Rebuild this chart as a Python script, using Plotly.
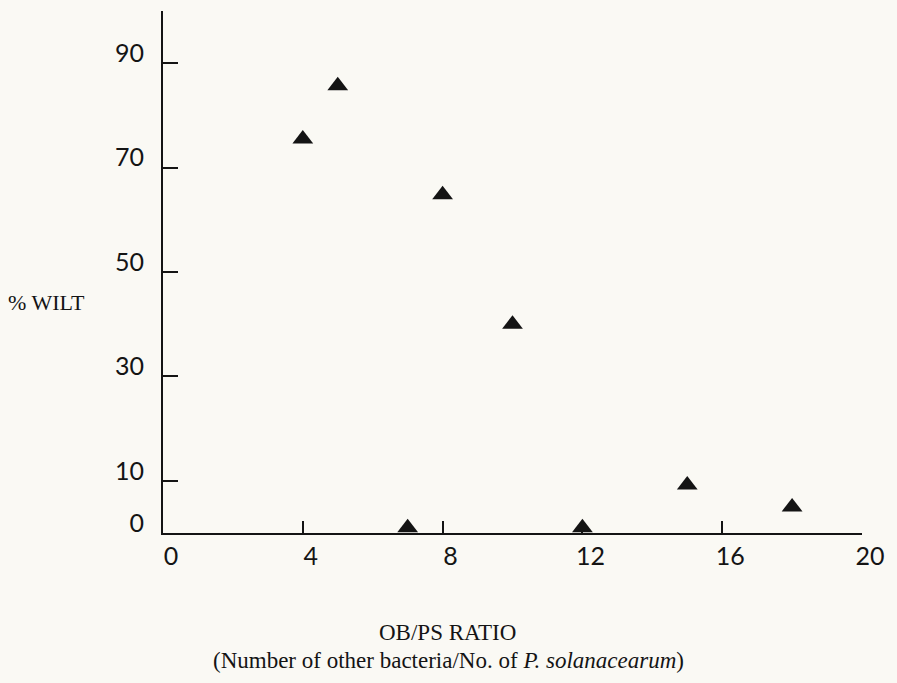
import plotly.graph_objects as go

# Data
ratio = [4, 5, 7, 8, 10, 12, 15, 18]
wilt = [75.5, 85.7, 1.0, 64.8, 40.0, 1.0, 9.2, 5.0]

y_tickvals = [0, 10, 30, 50, 70, 90]
y_ticktext = ["0", "10", "30", "50", "70", "90"]
x_tickvals = [0, 4, 8, 12, 16, 20]
x_ticktext = ["0", "4", "8", "12", "16", "20"]

paper = "#faf9f4"
ink = "#141414"
tick_font = dict(family="Lato, 'Open Sans', sans-serif", size=25, color=ink)
serif = "'Liberation Serif', 'DejaVu Serif', serif"

fig = go.Figure()
fig.add_trace(go.Scatter(
    x=ratio, y=wilt, mode="markers",
    marker=dict(symbol="triangle-up", size=18, color=ink, line=dict(width=0)),
    showlegend=False, hoverinfo="x+y",
))

fig.update_layout(
    width=897, height=683,
    margin=dict(l=163, r=35, t=11, b=150),
    paper_bgcolor=paper, plot_bgcolor=paper,
    xaxis=dict(
        range=[0, 20], showgrid=False, zeroline=False,
        showline=True, linecolor=ink, linewidth=2,
        tickmode="array", tickvals=x_tickvals, ticktext=x_ticktext,
        ticks="inside", ticklen=12, tickwidth=2, tickcolor=ink,
        tickfont=tick_font, ticklabelstandoff=0, ticklabelshift=8,
    ),
    yaxis=dict(
        range=[0, 100], showgrid=False, zeroline=False,
        showline=True, linecolor=ink, linewidth=2,
        tickmode="array", tickvals=y_tickvals, ticktext=y_ticktext,
        ticks="inside", ticklen=15, tickwidth=2, tickcolor=ink,
        tickfont=tick_font, ticklabelstandoff=12, ticklabelshift=-10,
    ),
    annotations=[
        dict(text="% WILT", xref="paper", yref="paper", x=-163/699, y=(533-302)/522,
             xanchor="left", yanchor="middle", showarrow=False,
             font=dict(family=serif, size=22, color=ink), xshift=6),
        dict(text="OB/PS RATIO", xref="paper", yref="paper", x=(447-163)/699, y=-(632-533)/522,
             xanchor="center", yanchor="middle", showarrow=False,
             font=dict(family=serif, size=23, color=ink)),
        dict(text="(Number of other bacteria/No. of <i>P. solanacearum</i>)", xref="paper", yref="paper",
             x=(448-163)/699, y=-(660-533)/522,
             xanchor="center", yanchor="middle", showarrow=False,
             font=dict(family=serif, size=23, color=ink)),
    ],
)

fig.write_html("out.html")
